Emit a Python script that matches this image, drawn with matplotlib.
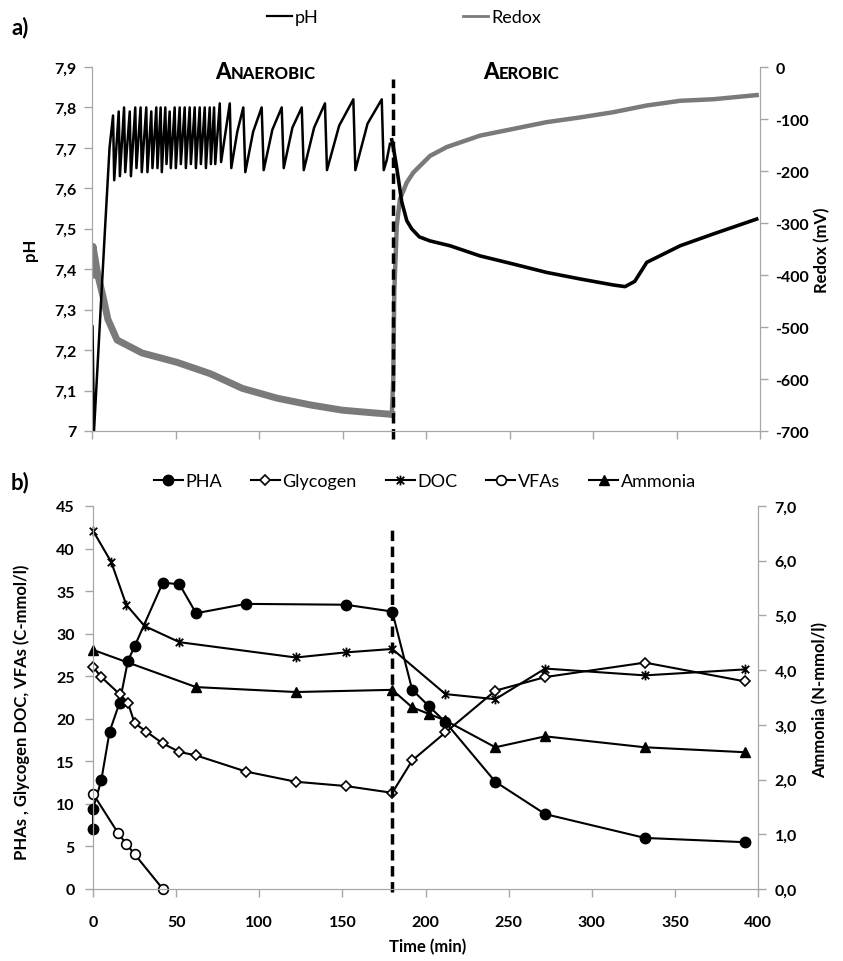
import matplotlib
matplotlib.use('Agg')
import matplotlib.pyplot as plt
from matplotlib.path import Path
from matplotlib.lines import Line2D
from matplotlib.ticker import FuncFormatter, MultipleLocator

plt.rcParams['font.family'] = ['Lato', 'DejaVu Sans']
plt.rcParams['font.weight'] = 'bold'
plt.rcParams['axes.unicode_minus'] = False

GRAY = '#a6a6a6'
REDOX_COL = '#7a7a7a'
phase_switch = 180  # min, anaerobic -> aerobic

# ---- panel a: online signals ----
ph_start_t = [0, 0.3, 1.2, 7.8, 10.5]
ph_start_v = [7.26, 7.26, 7.0, 7.5, 7.70]
ph_peak_t = [12.6, 16.0, 19.2, 22.6, 25.9, 29.1, 32.5, 35.5, 38.5, 41.1, 43.9, 46.5, 49.5, 52.5, 55.5,
             58.5, 61.5, 64.5, 67.5, 70.5, 73.1, 76.5, 82.5, 90.6, 101.6, 113.6, 125.6, 139.5, 156.5, 173.5]
ph_peak_v = [7.78, 7.79, 7.80, 7.79, 7.80, 7.80, 7.80, 7.79, 7.80, 7.80, 7.80, 7.79, 7.80, 7.80, 7.80,
             7.80, 7.80, 7.80, 7.80, 7.80, 7.80, 7.81, 7.81, 7.80, 7.80, 7.80, 7.80, 7.81, 7.82, 7.82]
ph_trough_t = [13.3, 16.7, 19.9, 23.3, 26.6, 29.8, 33.2, 36.2, 39.2, 41.8, 44.6, 47.2, 50.2, 53.2, 56.2,
               59.2, 62.2, 65.2, 68.2, 71.2, 73.8, 77.3, 83.4, 91.8, 102.8, 114.8, 126.8, 140.7, 157.7, 174.7]
ph_trough_v = [7.62, 7.63, 7.64, 7.63, 7.65, 7.64, 7.64, 7.65, 7.65, 7.64, 7.66, 7.65, 7.65, 7.66, 7.65,
               7.66, 7.65, 7.66, 7.65, 7.66, 7.66, 7.665, 7.65, 7.64, 7.645, 7.65, 7.645, 7.645, 7.645, 7.645]
ph_mid_t = [87, 96.5, 108, 120, 133, 148, 165, 176.5, 178.4]
ph_mid_v = [7.74, 7.74, 7.745, 7.75, 7.75, 7.755, 7.76, 7.67, 7.71]
ph_aer_t = [179.5, 180.5, 182.5, 185.5, 188.5, 191.4, 196, 202.4, 214.4, 232.3, 252.1, 272.3, 292.2,
            312.2, 319.2, 325, 332.2, 352.2, 371.9, 398]
ph_aer_v = [7.72, 7.70, 7.65, 7.566, 7.52, 7.50, 7.48, 7.47, 7.458, 7.433, 7.413, 7.392, 7.376,
            7.361, 7.357, 7.37, 7.417, 7.458, 7.487, 7.524]

redox_ana_t = [0, 0.6, 3.5, 6.5, 9.5, 15, 30, 51, 71, 90, 111, 131, 150, 168, 179.5]
redox_ana_v = [-400, -345, -400, -440, -485, -525, -550, -568, -590, -618, -637, -650, -660, -665, -668]
redox_aer_t = [179.5, 180.4, 181, 182.5, 184.4, 188.5, 192.4, 202.4, 212.4, 232.3, 252.3, 272.3, 292.2,
               312, 332.2, 352.2, 372, 398]
redox_aer_v = [-670, -600, -433, -305, -254, -222, -203, -171, -154, -132, -119, -106, -97,
               -87, -74, -65, -62, -54]

# ---- panel b: offline measurements ----
pha_t = [0, 0, 5, 10, 16, 21, 25, 42, 52, 62, 92, 152, 180, 192, 202, 212, 242, 272, 332, 392]
pha_v = [7.0, 9.4, 12.8, 18.5, 21.9, 26.8, 28.5, 36.0, 35.8, 32.4, 33.5, 33.4, 32.6, 23.4, 21.5, 19.6,
         12.6, 8.8, 6.0, 5.5]
gly_t = [0, 5, 16, 21, 25, 32, 42, 52, 62, 92, 122, 152, 180, 192, 212, 242, 272, 332, 392]
gly_v = [26.1, 24.9, 22.9, 21.9, 19.5, 18.5, 17.1, 16.1, 15.7, 13.8, 12.6, 12.1, 11.3, 15.1, 18.4,
         23.3, 24.9, 26.6, 24.4]
doc_t = [0, 11, 20, 31, 52, 122, 152, 180, 212, 242, 272, 332, 392]
doc_v = [42.1, 38.4, 33.4, 30.9, 29.0, 27.2, 27.8, 28.2, 22.9, 22.3, 25.9, 25.1, 25.8]
vfa_t = [0, 15, 20, 25, 42]
vfa_v = [11.2, 6.6, 5.3, 4.1, 0.0]
amm_t = [0, 62, 122, 180, 192, 202, 212, 242, 272, 332, 392]
amm_v = [4.37, 3.69, 3.60, 3.64, 3.32, 3.20, 3.08, 2.59, 2.79, 2.59, 2.50]

# anaerobic pH trace from all read vertices, in time order
pts = sorted(zip(ph_start_t + ph_peak_t + ph_trough_t + ph_mid_t,
                 ph_start_v + ph_peak_v + ph_trough_v + ph_mid_v))
ph_ana_t = [p[0] for p in pts]
ph_ana_v = [p[1] for p in pts]

# excel-like "star" marker: x with a vertical bar
star = Path([(-1, -1), (1, 1), (-1, 1), (1, -1), (0, -1.3), (0, 1.3)],
            [Path.MOVETO, Path.LINETO, Path.MOVETO, Path.LINETO, Path.MOVETO, Path.LINETO])


def comma(fmt):
    return FuncFormatter(lambda v, p: fmt.format(v).replace('.', ','))


def style(ax):
    for s in ax.spines.values():
        s.set_color(GRAY)
    ax.spines['top'].set_visible(False)
    ax.tick_params(colors=GRAY, labelcolor='black', direction='out', length=6, width=1, labelsize=11.5)


def smallcaps(ax, x, y, word):
    t = ax.text(x, y, word[0], fontsize=16, fontweight='black', va='baseline', ha='left')
    ax.annotate(word[1:], xy=(1, y), xycoords=(t, 'data'), fontsize=12, fontweight='black',
                va='baseline', ha='left')


fig = plt.figure(figsize=(8.43, 9.62), dpi=100)

# ---------------- a) ----------------
ax1 = fig.add_axes([92/843, 1-432/962, 668/843, 364/962])
ax1r = ax1.twinx()
ax1.set_zorder(2)
ax1.patch.set_visible(False)

ax1r.plot(redox_ana_t, redox_ana_v, color=REDOX_COL, lw=5, solid_joinstyle='round')
ax1r.plot(redox_aer_t, redox_aer_v, color=REDOX_COL, lw=3.2, solid_joinstyle='round')
ax1.plot(ph_ana_t, ph_ana_v, color='black', lw=1.8)
ax1.plot(ph_aer_t, ph_aer_v, color='black', lw=2.6)
ax1.axvline(phase_switch, ymin=-0.022, ymax=0.967, color='black', lw=2.5, dashes=(3, 1.6), clip_on=False)

ax1.set_xlim(0, 400)
ax1.set_ylim(7.0, 7.9)
ax1r.set_ylim(-700, 0)
ax1.xaxis.set_major_locator(MultipleLocator(50))
ax1.yaxis.set_major_locator(MultipleLocator(0.1))
ax1r.yaxis.set_major_locator(MultipleLocator(100))
ax1.yaxis.set_major_formatter(FuncFormatter(lambda v, p: f'{v:.0f}' if abs(v - round(v)) < 1e-6
                                            else f'{v:.1f}'.replace('.', ',')))
for a in (ax1, ax1r):
    style(a)
ax1.tick_params(axis='x', labelbottom=False)
ax1.tick_params(axis='y', pad=5)
ax1r.tick_params(axis='y', pad=5)

smallcaps(ax1, 73.7, 7.872, 'ANAEROBIC')
smallcaps(ax1, 234, 7.872, 'AEROBIC')

fig.text(30/843, 1-250/962, 'pH', rotation=90, ha='center', va='center', fontsize=12)
fig.text(822/843, 1-250/962, 'Redox (mV)', rotation=90, ha='center', va='center', fontsize=12)
fig.text(11/843, 1-28/962, 'a)', ha='left', va='center', fontsize=16)

h_a = [Line2D([], [], color='black', lw=1.6), Line2D([], [], color=REDOX_COL, lw=2)]
fig.legend(h_a, ['pH', 'Redox'], loc='center', bbox_to_anchor=(0.479, 0.981), ncol=2, frameon=False,
           handlelength=1.4, handletextpad=0.15, columnspacing=8, prop={'size': 13, 'weight': 'normal'})

# ---------------- b) ----------------
ax2 = fig.add_axes([93/843, 1-890/962, 665/843, 383/962])
ax2r = ax2.twinx()

mk = dict(color='black', lw=1.5, mec='black', clip_on=False)
l_pha, = ax2.plot(pha_t, pha_v, marker='o', ms=7.5, mfc='black', **mk)
l_gly, = ax2.plot(gly_t, gly_v, marker='D', ms=5.5, mfc='white', mew=1.2, **mk)
l_doc, = ax2.plot(doc_t, doc_v, marker=star, ms=7, mfc='none', mew=1.3, **mk)
l_vfa, = ax2.plot(vfa_t, vfa_v, marker='o', ms=7, mfc='white', mew=1.2, **mk)
l_amm, = ax2r.plot(amm_t, amm_v, marker='^', ms=7.5, mfc='black', **mk)
ax2.axvline(phase_switch, ymin=-0.008, ymax=0.945, color='black', lw=2.5, dashes=(3, 1.6), clip_on=False)

ax2.set_xlim(0, 400)
ax2.set_ylim(0, 45)
ax2r.set_ylim(0, 7)
ax2.xaxis.set_major_locator(MultipleLocator(50))
ax2.yaxis.set_major_locator(MultipleLocator(5))
ax2r.yaxis.set_major_locator(MultipleLocator(1))
ax2r.yaxis.set_major_formatter(comma('{:.1f}'))
for a in (ax2, ax2r):
    style(a)
ax2.tick_params(axis='x', pad=13)
ax2.tick_params(axis='y', pad=7)
ax2r.tick_params(axis='y', pad=6)

fig.text(428/843, 1-947/962, 'Time (min)', ha='center', va='center', fontsize=12)
fig.text(22/843, 1-712/962, 'PHAs , Glycogen DOC, VFAs (C-mmol/l)', rotation=90, ha='center', va='center',
         fontsize=12)
fig.text(820/843, 1-700/962, 'Ammonia (N-mmol/l)', rotation=90, ha='center', va='center', fontsize=12)
fig.text(11/843, 1-483/962, 'b)', ha='left', va='center', fontsize=16)

fig.legend([l_pha, l_gly, l_doc, l_vfa, l_amm], ['PHA', 'Glycogen', 'DOC', 'VFAs', 'Ammonia'],
           loc='center', bbox_to_anchor=(0.504, 0.499), ncol=5, frameon=False, handlelength=1.6,
           handletextpad=0.15, columnspacing=1.6, prop={'size': 13, 'weight': 'normal'})

fig.savefig('out.png', dpi=100)
